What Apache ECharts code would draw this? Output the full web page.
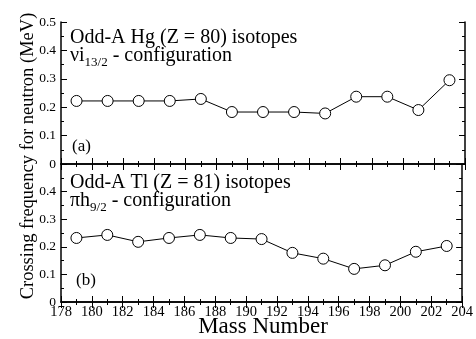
<!DOCTYPE html>
<html><head><meta charset="utf-8">
<script src="https://cdn.jsdelivr.net/npm/echarts@6/dist/echarts.min.js"></script>
<style>html,body{margin:0;padding:0;background:#fff}#c{width:476px;height:339px}</style>
</head><body><div id="c"></div>
<script>
const massNumbers = [179,181,183,185,187,189,191,193,195,197,199,201,203];
const hgValues = [0.222,0.222,0.222,0.222,0.229,0.183,0.183,0.183,0.178,0.237,0.237,0.190,0.295];
const tlValues = [0.232,0.243,0.218,0.232,0.243,0.232,0.228,0.178,0.157,0.120,0.133,0.182,0.203];
const xTicks = {min:178, max:204, interval:2};
const yTicks = {min:0, max:0.5, interval:0.1};

const F = 'Liberation Serif, Times New Roman, serif';
const chart = echarts.init(document.getElementById('c'));
const axLine = {show:true, lineStyle:{color:'#000', width:1.5}};
function xAx(grid, pos, labels){
  return {type:'value', gridIndex:grid, position:pos, min:xTicks.min, max:xTicks.max, interval:xTicks.interval,
    axisLine:axLine, axisTick:{show:true, inside:true, length:6, lineStyle:{color:'#000'}},
    minorTick:{show:true, splitNumber:2, length:3, lineStyle:{color:'#000'}},
    splitLine:{show:false},
    axisLabel:{show:labels, color:'#000', fontFamily:F, fontSize:14.5, margin:3}};
}
function yAx(grid, pos, labels, hideTop){
  return {type:'value', gridIndex:grid, position:pos, min:yTicks.min, max:yTicks.max, interval:yTicks.interval,
    axisLine:axLine, axisTick:{show:true, inside:true, length:6, lineStyle:{color:'#000'}},
    minorTick:{show:true, splitNumber:2, length:3, lineStyle:{color:'#000'}},
    splitLine:{show:false},
    axisLabel:{show:labels, color:'#000', fontFamily:F, fontSize:13.5, margin:5,
      formatter: v => (hideTop && v >= 0.5) ? '' : String(+v.toFixed(1))}};
}
const ser = (data, xi, yi) => ({type:'line', xAxisIndex:xi, yAxisIndex:yi,
  data: massNumbers.map((m,i)=>[m,data[i]]),
  symbol:'circle', symbolSize:11, lineStyle:{color:'#000', width:1},
  itemStyle:{color:'#fff', borderColor:'#000', borderWidth:1}, z:3});
const rich = {a:{fontFamily:F, fontSize:20, fill:'#000'}, s:{fontFamily:F, fontSize:13, verticalAlign:'bottom', padding:[13,0,0,0], fill:'#000'}};

chart.setOption({
  animation:false,
  grid:[{left:61, right:11, top:22, height:142},{left:61, right:11, top:164, height:138}],
  xAxis:[xAx(0,'bottom',false), xAx(0,'top',false), xAx(1,'bottom',true), xAx(1,'top',false)],
  yAxis:[yAx(0,'left',true,false), yAx(0,'right',false,false), yAx(1,'left',true,true), yAx(1,'right',false,false)],
  series:[ser(hgValues,0,0), ser(tlValues,2,2)],
  graphic:[
    {type:'text', left:70, top:28, style:{text:'Odd-A Hg (Z = 80) isotopes', font:'20px '+F, fill:'#000'}},
    {type:'text', left:70, top:46, style:{text:'{a|νi}{s|13/2}{a| - configuration}', fill:'#000', rich}},
    {type:'text', left:72, top:138, style:{text:'(a)', font:'17px '+F, fill:'#000'}},
    {type:'text', left:70, top:173, style:{text:'Odd-A Tl (Z = 81) isotopes', font:'20px '+F, fill:'#000'}},
    {type:'text', left:70, top:191, style:{text:'{a|πh}{s|9/2}{a| - configuration}', fill:'#000', rich}},
    {type:'text', left:76, top:272, style:{text:'(b)', font:'17px '+F, fill:'#000'}},
    {type:'text', x:28, y:156, rotation:Math.PI/2, style:{text:'Crossing frequency for neutron (MeV)', font:'18.5px '+F, fill:'#000', align:'center', verticalAlign:'middle'}},
    {type:'text', x:263, y:327, style:{text:'Mass Number', font:'23px '+F, fill:'#000', align:'center', verticalAlign:'middle'}}
  ]
});
</script></body></html>
